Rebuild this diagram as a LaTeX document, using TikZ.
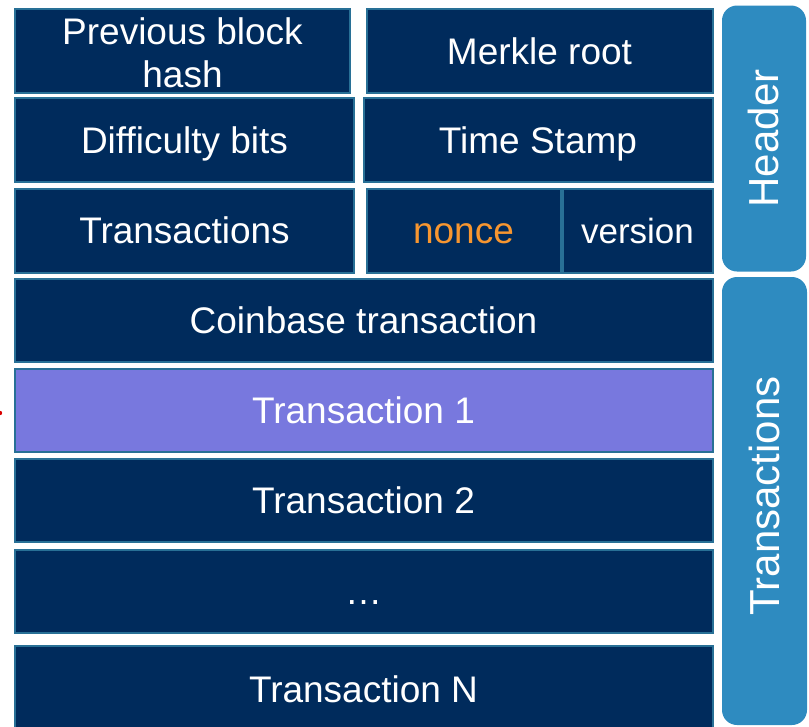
\documentclass[tikz,border=0pt]{standalone}
\usepackage{fontspec}
\setmainfont{Liberation Sans}
\definecolor{cellfill}{RGB}{0,43,92}
\definecolor{cellline}{RGB}{40,112,150}
\definecolor{hlfill}{RGB}{120,120,222}
\definecolor{sidefill}{RGB}{46,139,192}
\definecolor{nonceorange}{RGB}{247,150,48}
\tikzset{
  cellbase/.style={draw=cellline, fill=cellfill, line width=2pt, inner sep=0pt,
    text=white, font=\fontsize{37}{43}\selectfont},
  cell/.style={cellbase, text height=26.6pt, text depth=0pt},
  hlcell/.style={cell, fill=hlfill},
  sidebox/.style={fill=sidefill, rounded corners=15pt, inner sep=0pt},
  sidelabel/.style={text=white, rotate=90, font=\fontsize{42}{46}\selectfont}
}
\begin{document}
\begin{tikzpicture}[x=1pt,y=-1pt]
  \useasboundingbox (0,0) rectangle (809,726);
  % header fields
  \node[cell, minimum width=335pt, minimum height=84pt] (prev) at (182.5,51) {};
  \node (prevtext) at ([yshift=-2pt]prev.center) [text=white, font=\fontsize{37}{43}\selectfont, align=center, inner sep=0pt] {Previous block\\hash};
  \node[cell, minimum width=346pt, minimum height=84pt] (merkle) at (539.5,51) {Merkle root};
  \node[cell, minimum width=339pt, minimum height=84pt] (diff) at (184.5,140) {Difficulty bits};
  \node[cell, minimum width=349pt, minimum height=84pt] (time) at (538,140) {Time Stamp};
  \node[cell, minimum width=339pt, minimum height=84pt] (txcount) at (184.5,230.5) {Transactions};
  \node[cell, minimum width=194pt, minimum height=84pt, text=nonceorange] (nonce) at (463.5,230.5) {nonce};
  \node[cell, minimum width=150pt, minimum height=84pt, font=\fontsize{35}{40}\selectfont] (version) at (637.5,230.5) {version};
  % transaction list
  \node[cell, minimum width=698pt, minimum height=83pt] (coinbase) at (363.5,320) {Coinbase transaction};
  \node[hlcell, minimum width=698pt, minimum height=83pt] (tx1) at (363.5,410.5) {Transaction 1};
  \node[cell, minimum width=698pt, minimum height=83pt] (tx2) at (363.5,500.5) {Transaction 2};
  \node[cell, minimum width=698pt, minimum height=83pt] (dots) at (363.5,591.5) {…};
  \node[cell, minimum width=698pt, minimum height=86pt] (txn) at (363.5,689) {Transaction N};
  % side brackets
  \node[sidebox, minimum width=84pt, minimum height=266pt] (hdr) at (764,138.5) {};
  \node[sidelabel] (hdrlabel) at ([xshift=-1pt]hdr.center) {Header};
  \node[sidebox, minimum width=85pt, minimum height=448pt] (txs) at (764.5,501) {};
  \node[sidelabel] (txslabel) at ([yshift=5pt]txs.center) {Transactions};
  % marker at the left edge
  \fill[red!85!black] (0,413) circle (2.2pt);
\end{tikzpicture}
\end{document}
